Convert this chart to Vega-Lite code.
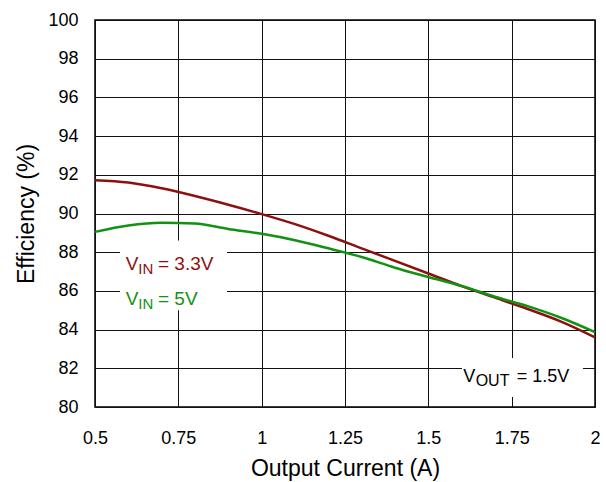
{
  "$schema": "https://vega.github.io/schema/vega-lite/v6.json",
  "autosize": {"type": "none"},
  "width": 500,
  "height": 387,
  "padding": {"left": 95, "top": 20, "right": 11, "bottom": 75},
  "background": "white",
  "title": {"text": "Efficiency vs Output Current", "fontSize": 28, "fontWeight": "bold", "font": "Liberation Sans", "color": "#000", "baseline": "alphabetic", "offset": 21, "anchor": "middle", "dx": 25},
  "config": {
    "font": "Liberation Sans",
    "view": {"stroke": "#000", "strokeWidth": 1.5},
    "axis": {"domain": false, "ticks": false, "grid": true, "gridColor": "#111", "gridOpacity": 1, "gridWidth": 1, "labelColor": "#000", "titleColor": "#000", "labelFontSize": 18, "titleFontSize": 23, "titleFontWeight": "normal", "labelFont": "Liberation Sans", "titleFont": "Liberation Sans", "labelOverlap": false, "labelBound": false, "labelFlush": false},
    "axisX": {"labelPadding": 22, "titlePadding": 10},
    "axisY": {"labelPadding": 17, "titlePadding": 9}
  },
  "datasets": {
    "curves": [
      {"I": 0.5, "E": 91.72, "Vin": "3.3V"},
      {"I": 0.6, "E": 91.6, "Vin": "3.3V"},
      {"I": 0.7, "E": 91.3, "Vin": "3.3V"},
      {"I": 0.8, "E": 90.9, "Vin": "3.3V"},
      {"I": 0.9, "E": 90.45, "Vin": "3.3V"},
      {"I": 1.0, "E": 89.97, "Vin": "3.3V"},
      {"I": 1.1, "E": 89.45, "Vin": "3.3V"},
      {"I": 1.2, "E": 88.85, "Vin": "3.3V"},
      {"I": 1.3, "E": 88.2, "Vin": "3.3V"},
      {"I": 1.4, "E": 87.55, "Vin": "3.3V"},
      {"I": 1.5, "E": 86.9, "Vin": "3.3V"},
      {"I": 1.6, "E": 86.25, "Vin": "3.3V"},
      {"I": 1.7, "E": 85.65, "Vin": "3.3V"},
      {"I": 1.8, "E": 85.05, "Vin": "3.3V"},
      {"I": 1.9, "E": 84.4, "Vin": "3.3V"},
      {"I": 2.0, "E": 83.6, "Vin": "3.3V"},
      {"I": 0.5, "E": 89.05, "Vin": "5V"},
      {"I": 0.6, "E": 89.38, "Vin": "5V"},
      {"I": 0.7, "E": 89.52, "Vin": "5V"},
      {"I": 0.8, "E": 89.48, "Vin": "5V"},
      {"I": 0.9, "E": 89.2, "Vin": "5V"},
      {"I": 1.0, "E": 88.95, "Vin": "5V"},
      {"I": 1.1, "E": 88.62, "Vin": "5V"},
      {"I": 1.2, "E": 88.2, "Vin": "5V"},
      {"I": 1.3, "E": 87.75, "Vin": "5V"},
      {"I": 1.4, "E": 87.2, "Vin": "5V"},
      {"I": 1.5, "E": 86.72, "Vin": "5V"},
      {"I": 1.6, "E": 86.25, "Vin": "5V"},
      {"I": 1.7, "E": 85.7, "Vin": "5V"},
      {"I": 1.8, "E": 85.2, "Vin": "5V"},
      {"I": 1.9, "E": 84.6, "Vin": "5V"},
      {"I": 2.0, "E": 83.87, "Vin": "5V"}
    ],
    "one": [{}]
  },
  "layer": [
    {
      "data": {"name": "curves"},
      "mark": {"type": "line", "strokeWidth": 2.5, "interpolate": "monotone"},
      "encoding": {
        "x": {"field": "I", "type": "quantitative", "scale": {"domain": [0.5, 2], "nice": false, "zero": false}, "axis": {"title": "Output Current (A)", "values": [0.5, 0.75, 1, 1.25, 1.5, 1.75, 2], "labelExpr": "'' + datum.value"}},
        "y": {"field": "E", "type": "quantitative", "scale": {"domain": [80, 100], "nice": false, "zero": false}, "axis": {"title": "Efficiency (%)", "values": [80, 82, 84, 86, 88, 90, 92, 94, 96, 98, 100]}},
        "color": {"field": "Vin", "type": "nominal", "scale": {"domain": ["3.3V", "5V"], "range": ["#8c1010", "#129212"]}, "legend": null}
      }
    },
    {
      "data": {"name": "one"},
      "mark": {"type": "rect", "fill": "white"},
      "encoding": {"x": {"datum": 0.575, "axis": {"title": "Output Current (A)", "values": [0.5, 0.75, 1, 1.25, 1.5, 1.75, 2], "labelExpr": "'' + datum.value"}}, "x2": {"datum": 0.896}, "y": {"datum": 88.6, "axis": {"title": "Efficiency (%)", "values": [80, 82, 84, 86, 88, 90, 92, 94, 96, 98, 100]}}, "y2": {"datum": 85.0}}
    },
    {
      "data": {"name": "one"},
      "mark": {"type": "rect", "fill": "white"},
      "encoding": {"x": {"datum": 1.601, "axis": {"title": "Output Current (A)", "values": [0.5, 0.75, 1, 1.25, 1.5, 1.75, 2], "labelExpr": "'' + datum.value"}}, "x2": {"datum": 1.964}, "y": {"datum": 82.53, "axis": {"title": "Efficiency (%)", "values": [80, 82, 84, 86, 88, 90, 92, 94, 96, 98, 100]}}, "y2": {"datum": 80.52}}
    },
    {
      "data": {"name": "one"},
      "mark": {"type": "text", "align": "left", "baseline": "alphabetic", "fontSize": 19, "color": "#8c1010"},
      "encoding": {"x": {"datum": 0.592, "axis": {"title": "Output Current (A)", "values": [0.5, 0.75, 1, 1.25, 1.5, 1.75, 2], "labelExpr": "'' + datum.value"}}, "y": {"datum": 87.08, "axis": {"title": "Efficiency (%)", "values": [80, 82, 84, 86, 88, 90, 92, 94, 96, 98, 100]}}, "text": {"value": "V"}}
    },
    {
      "data": {"name": "one"},
      "mark": {"type": "text", "align": "left", "baseline": "alphabetic", "fontSize": 15, "color": "#8c1010"},
      "encoding": {"x": {"datum": 0.630, "axis": {"title": "Output Current (A)", "values": [0.5, 0.75, 1, 1.25, 1.5, 1.75, 2], "labelExpr": "'' + datum.value"}}, "y": {"datum": 86.86, "axis": {"title": "Efficiency (%)", "values": [80, 82, 84, 86, 88, 90, 92, 94, 96, 98, 100]}}, "text": {"value": "IN"}}
    },
    {
      "data": {"name": "one"},
      "mark": {"type": "text", "align": "left", "baseline": "alphabetic", "fontSize": 19, "color": "#8c1010"},
      "encoding": {"x": {"datum": 0.689, "axis": {"title": "Output Current (A)", "values": [0.5, 0.75, 1, 1.25, 1.5, 1.75, 2], "labelExpr": "'' + datum.value"}}, "y": {"datum": 87.08, "axis": {"title": "Efficiency (%)", "values": [80, 82, 84, 86, 88, 90, 92, 94, 96, 98, 100]}}, "text": {"value": "= 3.3V"}}
    },
    {
      "data": {"name": "one"},
      "mark": {"type": "text", "align": "left", "baseline": "alphabetic", "fontSize": 19, "color": "#129212"},
      "encoding": {"x": {"datum": 0.592, "axis": {"title": "Output Current (A)", "values": [0.5, 0.75, 1, 1.25, 1.5, 1.75, 2], "labelExpr": "'' + datum.value"}}, "y": {"datum": 85.26, "axis": {"title": "Efficiency (%)", "values": [80, 82, 84, 86, 88, 90, 92, 94, 96, 98, 100]}}, "text": {"value": "V"}}
    },
    {
      "data": {"name": "one"},
      "mark": {"type": "text", "align": "left", "baseline": "alphabetic", "fontSize": 15, "color": "#129212"},
      "encoding": {"x": {"datum": 0.630, "axis": {"title": "Output Current (A)", "values": [0.5, 0.75, 1, 1.25, 1.5, 1.75, 2], "labelExpr": "'' + datum.value"}}, "y": {"datum": 85.05, "axis": {"title": "Efficiency (%)", "values": [80, 82, 84, 86, 88, 90, 92, 94, 96, 98, 100]}}, "text": {"value": "IN"}}
    },
    {
      "data": {"name": "one"},
      "mark": {"type": "text", "align": "left", "baseline": "alphabetic", "fontSize": 19, "color": "#129212"},
      "encoding": {"x": {"datum": 0.689, "axis": {"title": "Output Current (A)", "values": [0.5, 0.75, 1, 1.25, 1.5, 1.75, 2], "labelExpr": "'' + datum.value"}}, "y": {"datum": 85.26, "axis": {"title": "Efficiency (%)", "values": [80, 82, 84, 86, 88, 90, 92, 94, 96, 98, 100]}}, "text": {"value": "= 5V"}}
    },
    {
      "data": {"name": "one"},
      "mark": {"type": "text", "align": "left", "baseline": "alphabetic", "fontSize": 18, "color": "#000"},
      "encoding": {"x": {"datum": 1.605, "axis": {"title": "Output Current (A)", "values": [0.5, 0.75, 1, 1.25, 1.5, 1.75, 2], "labelExpr": "'' + datum.value"}}, "y": {"datum": 81.31, "axis": {"title": "Efficiency (%)", "values": [80, 82, 84, 86, 88, 90, 92, 94, 96, 98, 100]}}, "text": {"value": "V"}}
    },
    {
      "data": {"name": "one"},
      "mark": {"type": "text", "align": "left", "baseline": "alphabetic", "fontSize": 16, "color": "#000"},
      "encoding": {"x": {"datum": 1.642, "axis": {"title": "Output Current (A)", "values": [0.5, 0.75, 1, 1.25, 1.5, 1.75, 2], "labelExpr": "'' + datum.value"}}, "y": {"datum": 81.1, "axis": {"title": "Efficiency (%)", "values": [80, 82, 84, 86, 88, 90, 92, 94, 96, 98, 100]}}, "text": {"value": "OUT"}}
    },
    {
      "data": {"name": "one"},
      "mark": {"type": "text", "align": "left", "baseline": "alphabetic", "fontSize": 18, "color": "#000"},
      "encoding": {"x": {"datum": 1.765, "axis": {"title": "Output Current (A)", "values": [0.5, 0.75, 1, 1.25, 1.5, 1.75, 2], "labelExpr": "'' + datum.value"}}, "y": {"datum": 81.31, "axis": {"title": "Efficiency (%)", "values": [80, 82, 84, 86, 88, 90, 92, 94, 96, 98, 100]}}, "text": {"value": "= 1.5V"}}
    }
  ]
}
